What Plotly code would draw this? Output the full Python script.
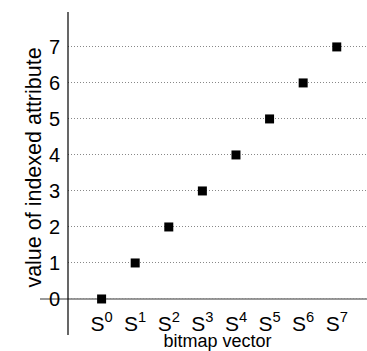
import plotly.graph_objects as go

categories = ["S<sup>0</sup>", "S<sup>1</sup>", "S<sup>2</sup>", "S<sup>3</sup>",
              "S<sup>4</sup>", "S<sup>5</sup>", "S<sup>6</sup>", "S<sup>7</sup>"]
x_index = [0, 1, 2, 3, 4, 5, 6, 7]
values = [0, 1, 2, 3, 4, 5, 6, 7]
y_ticks = [0, 1, 2, 3, 4, 5, 6, 7]

font = "Liberation Sans, Arial, sans-serif"

fig = go.Figure(go.Scatter(
    x=x_index, y=values, mode="markers",
    marker=dict(symbol="square", size=9, color="black"),
    cliponaxis=False,
))

fig.update_layout(
    width=367, height=351,
    margin=dict(l=68, r=0, t=12, b=28),
    paper_bgcolor="white", plot_bgcolor="white",
    showlegend=False,
    font=dict(family=font, size=18, color="black"),
    xaxis=dict(
        range=[-1, 7.9], tickvals=x_index, ticktext=categories,
        anchor="free", position=0.045,
        showgrid=False, zeroline=False, showline=False, ticks="",
        tickfont=dict(size=21),
        title=dict(text="bitmap vector", font=dict(size=18), standoff=3),
    ),
    yaxis=dict(
        range=[-0.667, 7.97], tickvals=y_ticks,
        showgrid=True, griddash="1px,2px", gridcolor="#888888", gridwidth=1,
        zeroline=False, showline=False, ticks="",
        ticklabelstandoff=7,
        tickfont=dict(size=20),
        title=dict(text="value of indexed attribute", font=dict(size=21.5), standoff=1),
    ),
    shapes=[
        dict(type="line", xref="paper", yref="paper",
             x0=0, x1=0, y0=-0.0386, y1=1.0,
             line=dict(color="black", width=1.2)),
        dict(type="line", xref="paper", yref="y",
             x0=-28 / 299, x1=1, y0=0, y1=0,
             line=dict(color="#777777", width=1.5), layer="below"),
    ],
)

fig.write_html("out.html")
